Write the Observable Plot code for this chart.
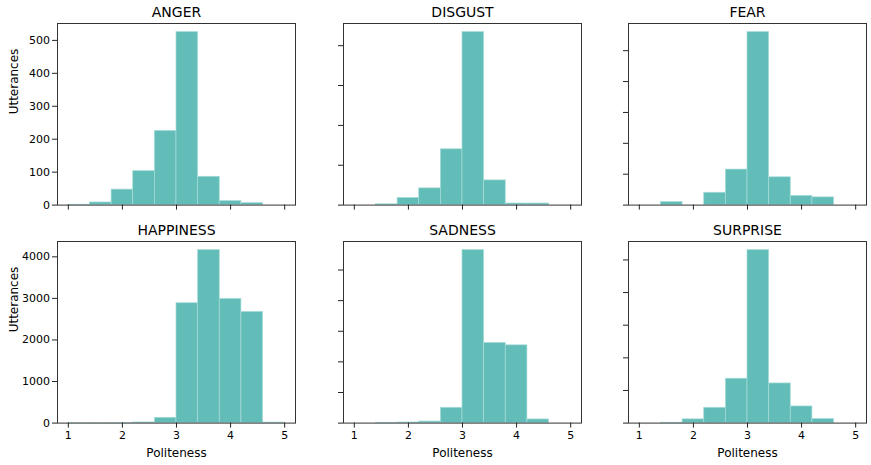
<!DOCTYPE html>
<html>
<head>
<meta charset="utf-8">
<script src="https://cdn.jsdelivr.net/npm/d3@7"></script>
<script src="https://cdn.jsdelivr.net/npm/@observablehq/plot@0.6"></script>
<style>
  html, body { margin: 0; padding: 0; background: #fff; }
  #chart { position: relative; width: 871px; height: 465px; overflow: hidden; font-family: "DejaVu Sans", sans-serif; }
  #chart svg { position: absolute; overflow: visible; max-width: none; }
</style>
</head>
<body>
<div id="chart"></div>
<script>
// Bin edges (Politeness) and counts per bin
const binEdges = [1.0, 1.4, 1.8, 2.2, 2.6, 3.0, 3.4, 3.8, 4.2, 4.6, 5.0];
const emotions = ["ANGER", "DISGUST", "FEAR", "HAPPINESS", "SADNESS", "SURPRISE"];
const anger     = [1, 8, 47, 103, 225, 525, 86, 12, 6, 0];
const disgust   = [0, 1, 9, 21, 70, 217, 31, 2, 2, 0];
const fear      = [0, 2, 0, 8, 23, 112, 18, 6, 5, 0];
const happiness = [1, 2, 3, 16, 128, 2884, 4161, 2988, 2675, 12];
const sadness   = [0, 1, 2, 5, 50, 565, 262, 254, 12, 0];
const surprise  = [0, 2, 23, 94, 272, 1060, 243, 102, 25, 0];
const xTicks = [1, 2, 3, 4, 5];
const angerTicks     = [0, 100, 200, 300, 400, 500];
const disgustTicks   = [0, 50, 100, 150, 200];
const fearTicks      = [0, 20, 40, 60, 80, 100];
const happinessTicks = [0, 1000, 2000, 3000, 4000];
const sadnessTicks   = [0, 100, 200, 300, 400, 500];
const surpriseTicks  = [0, 200, 400, 600, 800, 1000];
const xLabel = "Politeness";
const yLabel = "Utterances";

const series = [anger, disgust, fear, happiness, sadness, surprise];
const yTicksAll = [angerTicks, disgustTicks, fearTicks, happinessTicks, sadnessTicks, surpriseTicks];

const frameW = 238, frameH = 181.6;
const colLeft = [56.7, 342.7, 628.3];
const rowTop = [22.7, 241.3];
const mL = 56, mR = 6, mT = 24, mB = 42;

const fill = "#62bdb9";
const root = document.getElementById("chart");

series.forEach((counts, i) => {
  const row = Math.floor(i / 3), col = i % 3;
  const bins = counts.map((c, k) => ({x1: binEdges[k], x2: binEdges[k + 1], y: c}));
  const ymax = d3.max(counts) * 1.05;
  const marks = [
    Plot.rectY(bins, {x1: "x1", x2: "x2", y: "y", fill: fill, stroke: "#a6dcd9", strokeWidth: 0.7}),
    Plot.frame({stroke: "#333", strokeWidth: 1}),
    Plot.axisX(xTicks, {
      tickSize: 5, tickPadding: 3, stroke: "#222", fontSize: 11,
      tickFormat: row === 1 ? (d => String(d)) : (() => ""), label: null
    }),
    Plot.axisY(yTicksAll[i], {
      tickSize: 5, tickPadding: 2.5, stroke: "#222", fontSize: 11,
      tickFormat: col === 0 ? (d => String(d)) : (() => ""), label: null
    }),
    Plot.text([emotions[i]], {frameAnchor: "top", dy: -6, lineAnchor: "bottom", fontSize: 14, fill: "#000"})
  ];
  if (row === 1) {
    marks.push(Plot.text([xLabel], {frameAnchor: "bottom", dy: 30, lineAnchor: "middle", fontSize: 12, fill: "#000"}));
  }
  if (col === 0) {
    marks.push(Plot.text([yLabel], {frameAnchor: "left", dx: -43, rotate: -90, lineAnchor: "middle", fontSize: 12, fill: "#000"}));
  }
  const svg = Plot.plot({
    width: frameW + mL + mR,
    height: frameH + mT + mB,
    marginLeft: mL, marginRight: mR, marginTop: mT, marginBottom: mB,
    style: {background: "transparent", fontFamily: "DejaVu Sans, sans-serif", fontSize: "11px", color: "#000", overflow: "visible"},
    x: {domain: [0.8, 5.2], label: null},
    y: {domain: [0, ymax], label: null},
    marks
  });
  svg.style.left = (colLeft[col] - mL) + "px";
  svg.style.top = (rowTop[row] - mT) + "px";
  root.appendChild(svg);
});
</script>
</body>
</html>
